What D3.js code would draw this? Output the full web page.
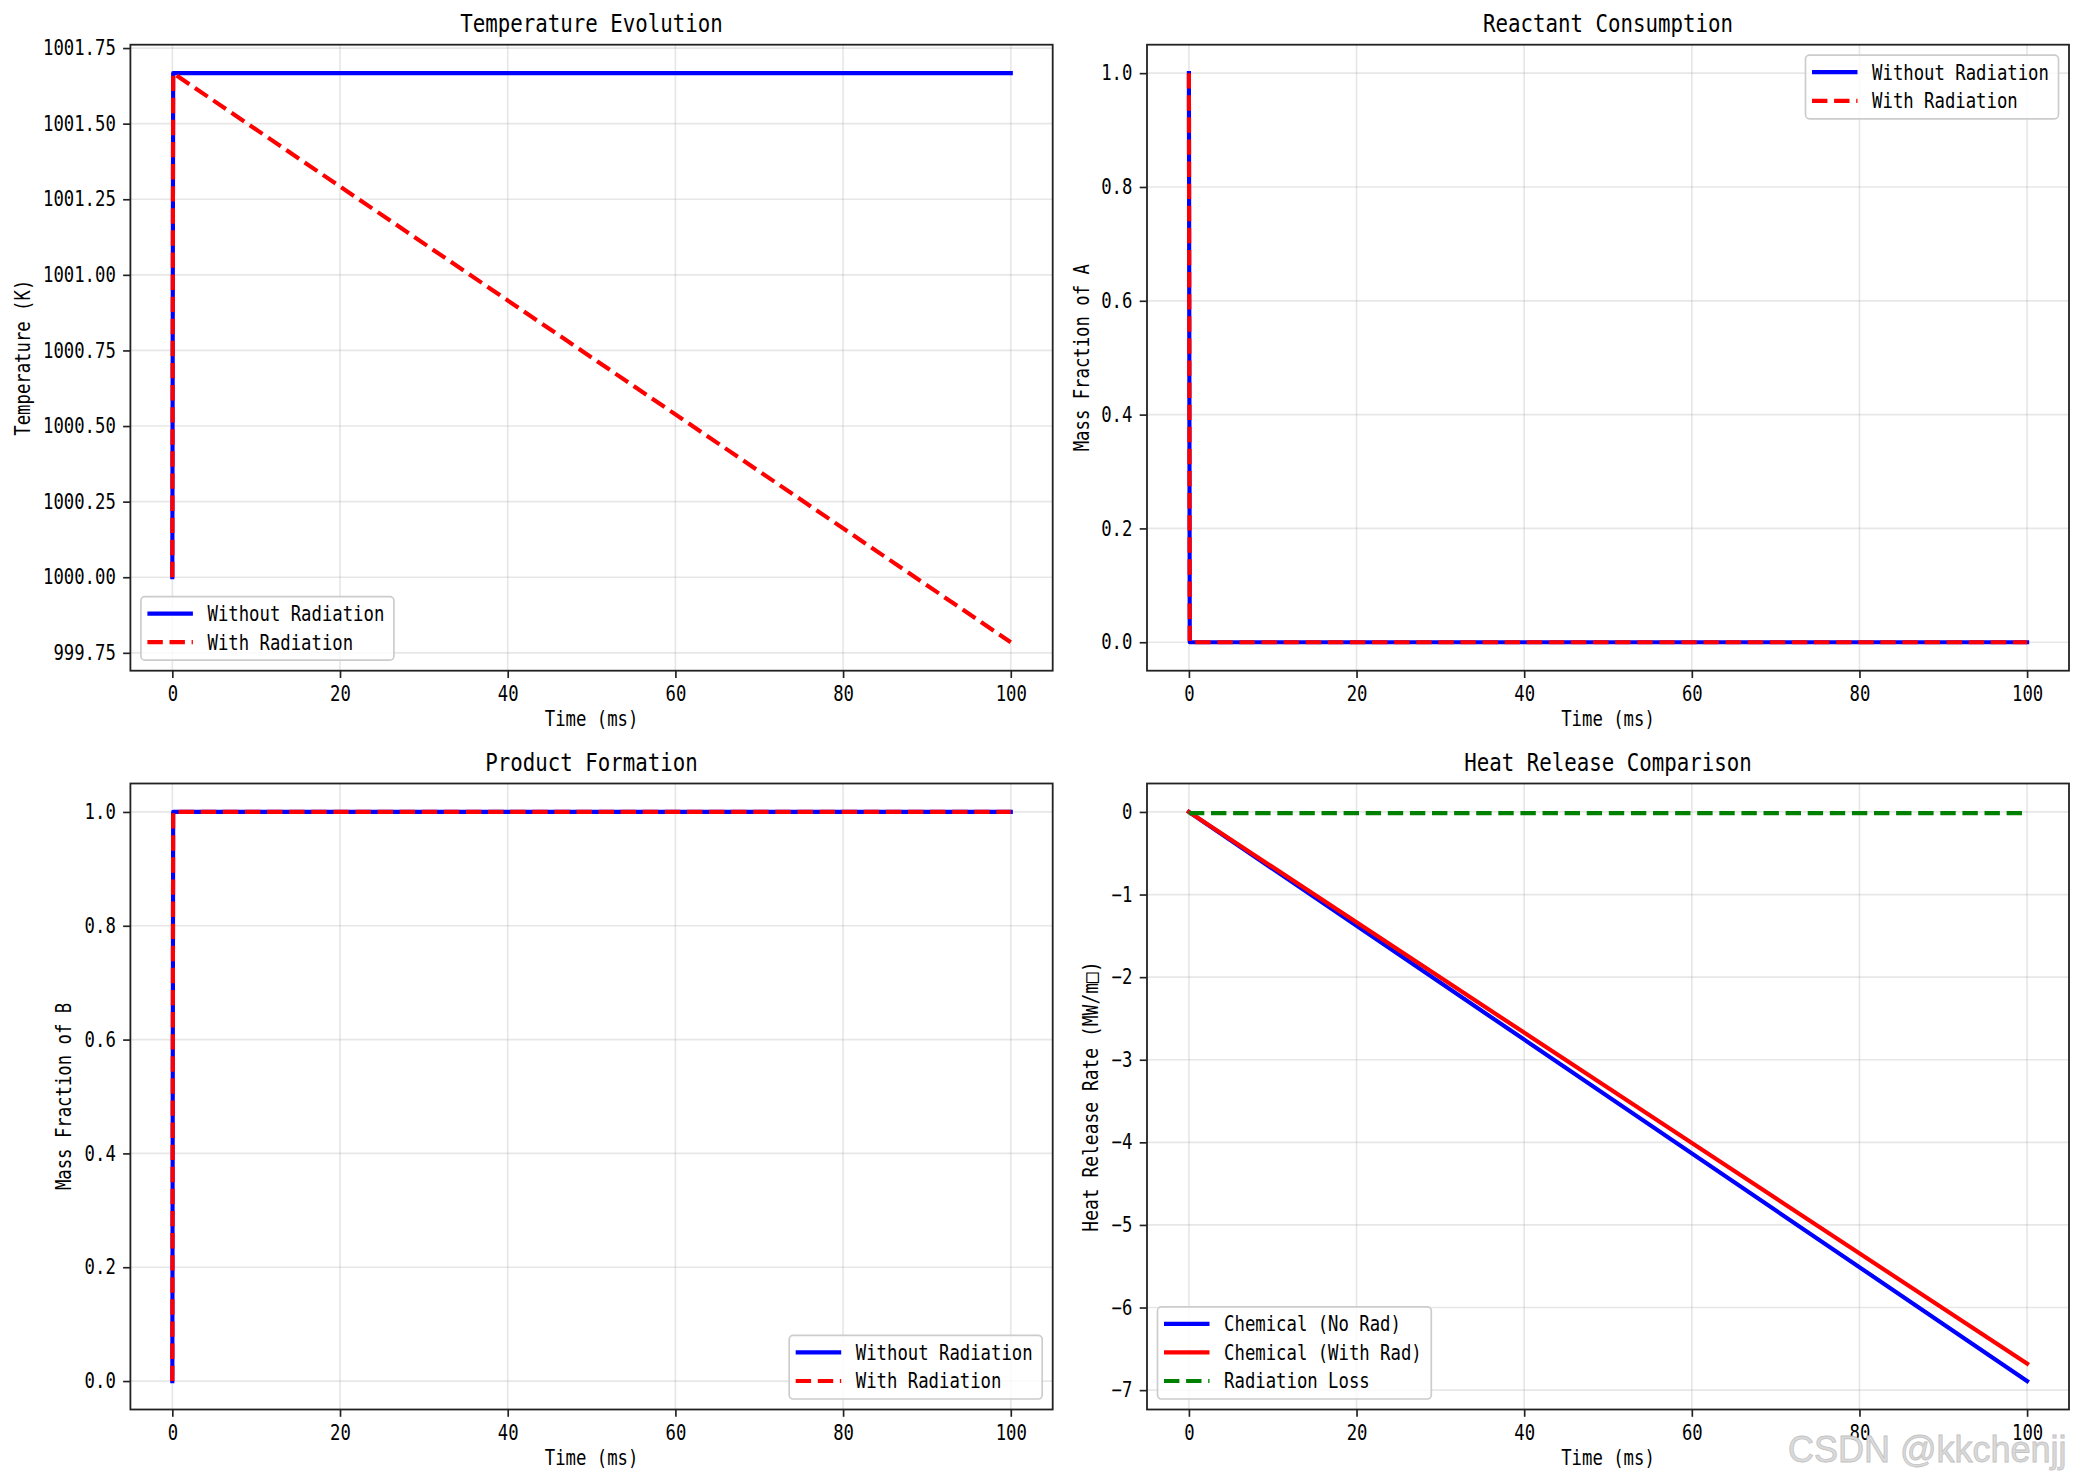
<!DOCTYPE html>
<html>
<head>
<meta charset="utf-8">
<script src="https://cdn.jsdelivr.net/npm/d3@7"></script>
<style>
  html, body { margin: 0; padding: 0; background: #fff; }
  svg { display: block; }
  text.mono { font-family: "DejaVu Sans Mono", "Liberation Mono", monospace; fill: #000; }
</style>
</head>
<body>
<svg id="chart" width="2084" height="1484"></svg>
<script>
// ---------------- data ----------------
const timeMs = [0, 0.1, 100];
const tempNoRad = [1000.0, 1001.667, 1001.667];
const tempRad = [1000.0, 1001.667, 999.785];
const massANoRad = [1.0, 0.0, 0.0];
const massARad = [1.0, 0.0, 0.0];
const massBNoRad = [0.0, 1.0, 1.0];
const massBRad = [0.0, 1.0, 1.0];
const timeHR = [0, 100];
const chemNoRad = [0.0, -6.89];
const chemRad = [0.0, -6.68];
const radLoss = [-0.015, -0.015];

const xTicks = [0, 20, 40, 60, 80, 100];
const tempTicks = [999.75, 1000.00, 1000.25, 1000.50, 1000.75, 1001.00, 1001.25, 1001.50, 1001.75];
const fracTicks = [0.0, 0.2, 0.4, 0.6, 0.8, 1.0];
const hrTicks = [-7, -6, -5, -4, -3, -2, -1, 0];

const titles = ["Temperature Evolution", "Reactant Consumption", "Product Formation", "Heat Release Comparison"];
const yLabels = ["Temperature (K)", "Mass Fraction of A", "Mass Fraction of B", "Heat Release Rate (MW/m\u25A1)"];
const xLabel = "Time (ms)";
const legendTR = ["Without Radiation", "With Radiation"];
const legendHR = ["Chemical (No Rad)", "Chemical (With Rad)", "Radiation Loss"];

// ---------------- helpers ----------------
const svg = d3.select("#chart");
const FS_TICK = 20.8, FS_TITLE = 25, FS_LABEL = 20.8, FS_LEG = 20.8;
const LW = 4.17;
const DASH = "15.4,6.7";

function charUnits(str) {
  let n = 0;
  for (const ch of str) n += (ch === "\u25A1") ? 2 : 1;
  return n;
}
function squeeze(sel, fs) {
  sel.each(function () {
    const t = d3.select(this);
    const s = t.text();
    t.classed("mono", true)
      .attr("textLength", charUnits(s) * fs * 0.5).attr("lengthAdjust", "spacingAndGlyphs");
  });
}
function minusFmt(v, dec) {
  const s = Math.abs(v).toFixed(dec);
  return (v < 0 ? "\u2212" : "") + s;
}
function padDomain(vals) {
  const lo = d3.min(vals), hi = d3.max(vals);
  const m = (hi - lo) * 0.05;
  return [lo - m, hi + m];
}

function panel(cfg) {
  const { left, right, top, bottom } = cfg;
  const g = svg.append("g");
  const x = d3.scaleLinear().domain(padDomain(cfg.xData)).range([left, right]);
  const y = d3.scaleLinear().domain(padDomain(cfg.yData)).range([bottom, top]);

  // grid
  g.append("g").selectAll("line").data(xTicks).join("line")
    .attr("x1", d => x(d)).attr("x2", d => x(d)).attr("y1", top).attr("y2", bottom)
    .attr("stroke", "#b0b0b0").attr("stroke-opacity", 0.3).attr("stroke-width", 1.67);
  g.append("g").selectAll("line").data(cfg.yTicks).join("line")
    .attr("y1", d => y(d)).attr("y2", d => y(d)).attr("x1", left).attr("x2", right)
    .attr("stroke", "#b0b0b0").attr("stroke-opacity", 0.3).attr("stroke-width", 1.67);

  // series
  const clipId = "clip" + cfg.id;
  svg.append("clipPath").attr("id", clipId).append("rect")
    .attr("x", left).attr("y", top).attr("width", right - left).attr("height", bottom - top);
  const lg = g.append("g").attr("clip-path", `url(#${clipId})`);
  cfg.series.forEach(s => {
    const pts = s.x.map((xv, i) => [xv, s.y[i]]);
    lg.append("path")
      .attr("d", d3.line().x(d => x(d[0])).y(d => y(d[1]))(pts))
      .attr("fill", "none").attr("stroke", s.color).attr("stroke-width", LW)
      .attr("stroke-linejoin", "round")
      .attr("stroke-linecap", s.dash ? "butt" : "square")
      .attr("stroke-dasharray", s.dash ? DASH : null);
  });

  // axes
  const ax = g.append("g").attr("transform", `translate(0,${bottom})`)
    .call(d3.axisBottom(x).tickValues(xTicks).tickFormat(d => String(d)).tickSize(7.3).tickPadding(8));
  const ay = g.append("g").attr("transform", `translate(${left},0)`)
    .call(d3.axisLeft(y).tickValues(cfg.yTicks).tickFormat(d => minusFmt(d, cfg.yDec)).tickSize(7.3).tickPadding(7.3));
  [ax, ay].forEach(a => {
    a.select(".domain").remove();
    a.selectAll(".tick line").attr("stroke", "#222").attr("stroke-width", 1.67);
    a.selectAll(".tick text").attr("font-size", FS_TICK).call(squeeze, FS_TICK);
  });

  // frame
  g.append("rect").attr("x", left).attr("y", top).attr("width", right - left).attr("height", bottom - top)
    .attr("fill", "none").attr("stroke", "#222").attr("stroke-width", 1.8);

  // title
  g.append("text").attr("x", (left + right) / 2).attr("y", top - 12.5)
    .attr("text-anchor", "middle").attr("font-size", FS_TITLE).text(cfg.title).call(squeeze, FS_TITLE);
  // x label
  g.append("text").attr("x", (left + right) / 2).attr("y", bottom + 55)
    .attr("text-anchor", "middle").attr("font-size", FS_LABEL).text(xLabel).call(squeeze, FS_LABEL);
  // y label
  g.append("text").attr("transform", `translate(${cfg.ylabX},${(top + bottom) / 2}) rotate(-90)`)
    .attr("text-anchor", "middle").attr("font-size", FS_LABEL).text(cfg.ylabel).call(squeeze, FS_LABEL);

  // legend
  const L = cfg.legend;
  const n = L.items.length;
  const maxC = d3.max(L.items, it => charUnits(it.label));
  const w = 66.6 + maxC * FS_LEG * 0.5 + 9.6;
  const h = 34 + (n - 1) * 28.6 + 1;
  const pad = 10.5;
  let x0 = L.loc.includes("left") ? left + pad : right - pad - w;
  let y0 = L.loc.includes("upper") ? top + pad : bottom - pad - h;
  const leg = g.append("g");
  leg.append("rect").attr("x", x0).attr("y", y0).attr("width", w).attr("height", h)
    .attr("rx", 4).attr("ry", 4).attr("fill", "#fff").attr("fill-opacity", 0.8)
    .attr("stroke", "#cccccc").attr("stroke-width", 1.67);
  L.items.forEach((it, i) => {
    const cy = y0 + 17 + i * 28.6;
    leg.append("line").attr("x1", x0 + 6.5).attr("x2", x0 + 52).attr("y1", cy).attr("y2", cy)
      .attr("stroke", it.color).attr("stroke-width", LW)
      .attr("stroke-dasharray", it.dash ? DASH : null);
    leg.append("text").attr("x", x0 + 66.6).attr("y", cy + 7.3).attr("font-size", FS_LEG)
      .text(it.label).call(squeeze, FS_LEG);
  });
}

const colL = [130.4, 1052.7], colR = [1147, 2069];
const rowT = [44.7, 670.7], rowB = [783.5, 1409.5];

panel({
  id: 1, left: colL[0], right: colL[1], top: rowT[0], bottom: rowT[1],
  xData: timeMs, yData: tempNoRad.concat(tempRad), yTicks: tempTicks, yDec: 2,
  title: titles[0], ylabel: yLabels[0], ylabX: 30,
  series: [
    { x: timeMs, y: tempNoRad, color: "#0000ff", dash: false },
    { x: timeMs, y: tempRad, color: "#ff0000", dash: true }
  ],
  legend: { loc: "lower left", items: [
    { label: legendTR[0], color: "#0000ff", dash: false },
    { label: legendTR[1], color: "#ff0000", dash: true }] }
});

panel({
  id: 2, left: colR[0], right: colR[1], top: rowT[0], bottom: rowT[1],
  xData: timeMs, yData: massANoRad.concat(massARad), yTicks: fracTicks, yDec: 1,
  title: titles[1], ylabel: yLabels[1], ylabX: 1089,
  series: [
    { x: timeMs, y: massANoRad, color: "#0000ff", dash: false },
    { x: timeMs, y: massARad, color: "#ff0000", dash: true }
  ],
  legend: { loc: "upper right", items: [
    { label: legendTR[0], color: "#0000ff", dash: false },
    { label: legendTR[1], color: "#ff0000", dash: true }] }
});

panel({
  id: 3, left: colL[0], right: colL[1], top: rowB[0], bottom: rowB[1],
  xData: timeMs, yData: massBNoRad.concat(massBRad), yTicks: fracTicks, yDec: 1,
  title: titles[2], ylabel: yLabels[2], ylabX: 71,
  series: [
    { x: timeMs, y: massBNoRad, color: "#0000ff", dash: false },
    { x: timeMs, y: massBRad, color: "#ff0000", dash: true }
  ],
  legend: { loc: "lower right", items: [
    { label: legendTR[0], color: "#0000ff", dash: false },
    { label: legendTR[1], color: "#ff0000", dash: true }] }
});

panel({
  id: 4, left: colR[0], right: colR[1], top: rowB[0], bottom: rowB[1],
  xData: timeHR, yData: chemNoRad.concat(chemRad, radLoss), yTicks: hrTicks, yDec: 0,
  title: titles[3], ylabel: yLabels[3], ylabX: 1098,
  series: [
    { x: timeHR, y: chemNoRad, color: "#0000ff", dash: false },
    { x: timeHR, y: chemRad, color: "#ff0000", dash: false },
    { x: timeHR, y: radLoss, color: "#008000", dash: true }
  ],
  legend: { loc: "lower left", items: [
    { label: legendHR[0], color: "#0000ff", dash: false },
    { label: legendHR[1], color: "#ff0000", dash: false },
    { label: legendHR[2], color: "#008000", dash: true }] }
});

// watermark
svg.append("text").attr("x", 1788).attr("y", 1462)
  .style("font-family", '"Liberation Sans", Arial, sans-serif').style("font-size", "36px")
  .style("fill", "#dadada").style("stroke", "#c2c2c2").style("stroke-width", "0.8px")
  .text("CSDN @kkchenjj");
</script>
</body>
</html>
